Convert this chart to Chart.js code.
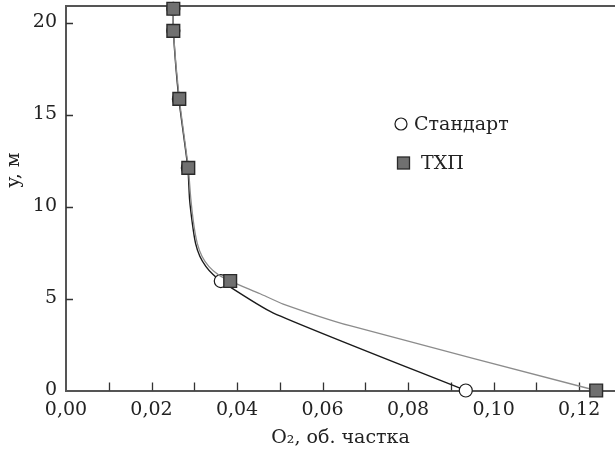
<!DOCTYPE html>
<html>
<head>
<meta charset="utf-8">
<script src="https://cdn.jsdelivr.net/npm/chart.js@4.4.1/dist/chart.umd.min.js"></script>
<style>
  body { margin: 0; background: #fff; }
  #wrap { width: 615px; height: 460px; position: relative; }
</style>
</head>
<body>
<div id="wrap"><canvas id="o2Chart"></canvas></div>
<script>
// Стандарт: black line, open circles (1 = measured point with a marker)
const stdX = [0.0251, 0.0251, 0.0264, 0.0285, 0.0289, 0.0296, 0.0303, 0.0313, 0.0327, 0.0344, 0.0362, 0.0484, 0.0935];
const stdY = [20.75, 19.55, 15.85, 12.1, 10.4, 9.0, 8.0, 7.3, 6.75, 6.3, 5.95, 4.22, 0];
const stdMarked = [1, 1, 1, 1, 0, 0, 0, 0, 0, 0, 1, 0, 1];

// ТХП: grey line, filled squares
const txpX = [0.0251, 0.0251, 0.0265, 0.0286, 0.0292, 0.0299, 0.0307, 0.0318, 0.0334, 0.0356, 0.0384, 0.0454, 0.0508, 0.0664, 0.124];
const txpY = [20.75, 19.55, 15.85, 12.1, 10.4, 9.0, 8.0, 7.3, 6.75, 6.3, 5.95, 5.26, 4.70, 3.52, 0];
const txpMarked = [1, 1, 1, 1, 0, 0, 0, 0, 0, 0, 1, 0, 0, 0, 1];

const seriesNames = ['Стандарт', 'ТХП'];
const xTickValues = [0, 0.02, 0.04, 0.06, 0.08, 0.10, 0.12];
const xTickLabels = ['0,00', '0,02', '0,04', '0,06', '0,08', '0,10', '0,12'];
const yTickValues = [0, 5, 10, 15, 20];
const xTitle = 'O₂, об. частка';
const yTitle = 'y, м';

const serif = "'DejaVu Serif', 'Liberation Serif', serif";
Chart.defaults.font.family = serif;
Chart.defaults.font.size = 19;
Chart.defaults.color = '#222';

function toPoints(xs, ys) {
    return xs.map((x, i) => ({ x: x, y: ys[i] }));
}

// top frame line, inward tick marks, y title and the legend inside the plot
const framePlugin = {
    id: 'frame',
    beforeDatasetsDraw(chart) {
        const { ctx, chartArea: a, scales: { x, y } } = chart;
        ctx.save();
        ctx.strokeStyle = '#555';
        ctx.lineWidth = 2;
        ctx.beginPath();
        ctx.moveTo(a.left - 1, a.top);
        ctx.lineTo(a.right, a.top);
        ctx.stroke();

        ctx.strokeStyle = '#333';
        ctx.lineWidth = 1.3;
        ctx.beginPath();
        x.ticks.forEach(t => {
            if (t.value <= 0) return;
            const px = Math.round(x.getPixelForValue(t.value)) + 0.5;
            ctx.moveTo(px, a.bottom);
            ctx.lineTo(px, a.bottom - 8);
        });
        y.ticks.forEach(t => {
            if (t.value <= 0) return;
            const py = Math.round(y.getPixelForValue(t.value)) + 0.5;
            ctx.moveTo(a.left, py);
            ctx.lineTo(a.left + 7, py);
        });
        ctx.stroke();
        ctx.restore();
    },
    afterDraw(chart) {
        const { ctx, chartArea: a } = chart;
        ctx.save();
        ctx.font = '19px ' + serif;
        ctx.fillStyle = '#222';
        ctx.textBaseline = 'middle';

        // y title
        ctx.save();
        ctx.translate(14, 170);
        ctx.rotate(-Math.PI / 2);
        ctx.textAlign = 'center';
        ctx.fillText(yTitle, 0, 0);
        ctx.restore();

        // legend
        const lx = a.left + 335;
        const ly = a.top + 118;
        const std = chart.data.datasets[1];
        const txp = chart.data.datasets[0];
        ctx.beginPath();
        ctx.arc(lx, ly, 6, 0, Math.PI * 2);
        ctx.fillStyle = std.pointBackgroundColor;
        ctx.fill();
        ctx.lineWidth = 1.2;
        ctx.strokeStyle = std.pointBorderColor;
        ctx.stroke();
        ctx.fillStyle = '#222';
        ctx.fillText(std.label, lx + 13, ly + 1);

        ctx.fillStyle = txp.pointBackgroundColor;
        ctx.fillRect(lx - 3.5, ly + 33, 12, 12);
        ctx.lineWidth = 1.3;
        ctx.strokeStyle = txp.pointBorderColor;
        ctx.strokeRect(lx - 3.5, ly + 33, 12, 12);
        ctx.fillStyle = '#222';
        ctx.fillText(txp.label, lx + 20, ly + 40);
        ctx.restore();
    }
};

const ctx = document.getElementById('o2Chart').getContext('2d');
const chart = new Chart(ctx, {
    type: 'line',
    data: {
        datasets: [{
            label: seriesNames[1],
            data: toPoints(txpX, txpY),
            borderColor: '#8c8c8c',
            borderWidth: 1.3,
            tension: 0.2,
            clip: false,
            pointStyle: 'rect',
            pointRadius: txpMarked.map(m => m ? 9 : 0),
            pointBackgroundColor: '#707070',
            pointBorderColor: '#2a2a2a',
            pointBorderWidth: 1.4
        }, {
            label: seriesNames[0],
            data: toPoints(stdX, stdY),
            borderColor: '#1a1a1a',
            borderWidth: 1.4,
            tension: 0.2,
            clip: false,
            pointStyle: 'circle',
            pointRadius: stdMarked.map(m => m ? 6.5 : 0),
            pointBackgroundColor: '#ffffff',
            pointBorderColor: '#1a1a1a',
            pointBorderWidth: 1.2
        }]
    },
    options: {
        responsive: true,
        maintainAspectRatio: false,
        animation: false,
        layout: { autoPadding: false, padding: { left: 0, right: 0, top: 6, bottom: 0 } },
        plugins: {
            legend: { display: false },
            tooltip: { enabled: false }
        },
        elements: { point: { hoverRadius: 0 } },
        scales: {
            x: {
                type: 'linear',
                min: 0,
                max: 0.1284,
                grid: { display: false, drawTicks: false },
                border: { display: true, color: '#555', width: 2 },
                ticks: {
                    stepSize: 0.01,
                    includeBounds: false,
                    autoSkip: false,
                    maxRotation: 0,
                    padding: 8,
                    callback: (v) => {
                        const i = xTickValues.findIndex(t => Math.abs(t - v) < 1e-6);
                        return i >= 0 ? xTickLabels[i] : '';
                    }
                },
                title: { display: true, text: xTitle, padding: { top: 0, bottom: 11 } },
                afterFit: (s) => { s.height = 69.5; s.paddingLeft = 0; s.paddingRight = 0; }
            },
            y: {
                type: 'linear',
                min: 0,
                max: 20.9,
                grid: { display: false, drawTicks: false },
                border: { display: true, color: '#555', width: 2 },
                ticks: {
                    stepSize: 5,
                    includeBounds: false,
                    padding: 9,
                    callback: (v) => yTickValues.includes(v) ? String(v) : ''
                },
                afterFit: (s) => { s.width = 66; s.paddingTop = 0; s.paddingBottom = 0; }
            }
        }
    },
    plugins: [framePlugin]
});
</script>
</body>
</html>
